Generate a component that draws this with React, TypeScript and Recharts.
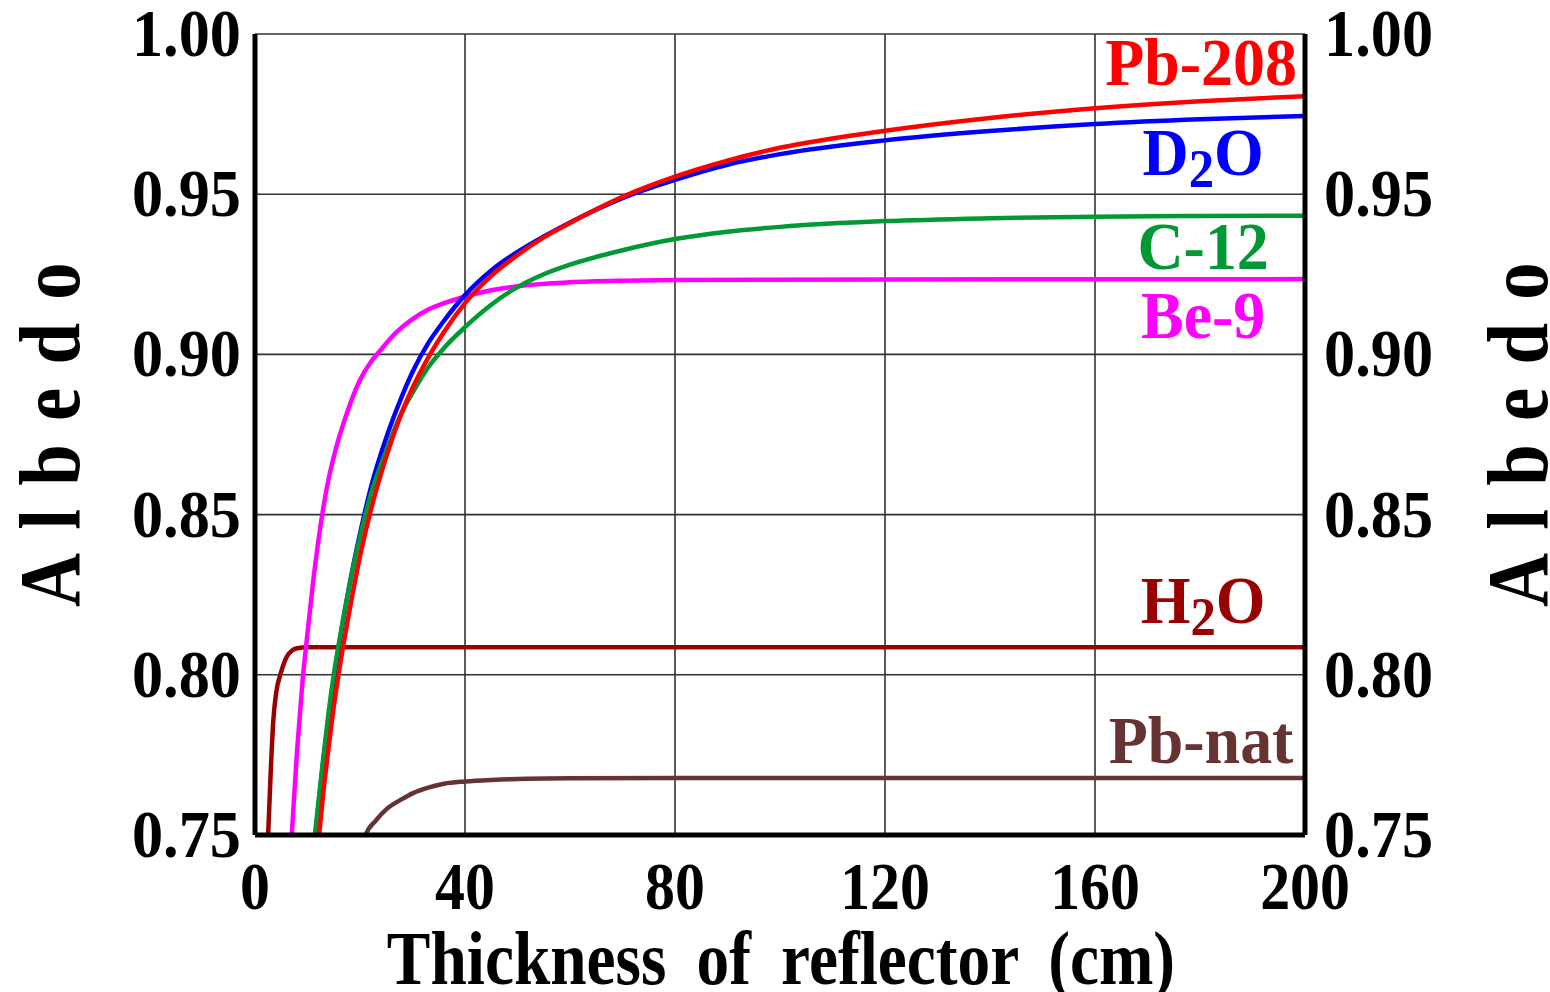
import React from 'react'
import { LineChart, Line, XAxis, YAxis, CartesianGrid, ReferenceDot } from 'recharts'

// albedo vs reflector thickness (cm), one table per reflector material
type Pt = { t: number; a: number }
const pts = (rows: number[][]): Pt[] => rows.map(([t, a]) => ({ t, a }))

const h2o = pts([
  [2.4, 0.745], [2.5, 0.75], [3, 0.77], [3.5, 0.786], [4, 0.794], [5, 0.801], [6, 0.8055],
  [7, 0.8075], [8, 0.8083], [10, 0.8086], [40, 0.8086], [100, 0.8086], [200, 0.8086],
])

const pbNat = pts([
  [20.5, 0.745], [21.1, 0.75], [23, 0.7545], [25, 0.758], [28, 0.7612], [30, 0.763], [33, 0.7648],
  [36, 0.766], [40, 0.7667], [45, 0.7672], [50, 0.7675], [60, 0.7677], [80, 0.7678], [200, 0.7678],
])

const be9 = pts([
  [6.8, 0.745], [7, 0.75], [8, 0.776], [9, 0.797], [10, 0.813], [11, 0.828], [12, 0.841], [13, 0.852],
  [14, 0.861], [15, 0.868], [16, 0.874], [18, 0.884], [20, 0.892], [22, 0.8975], [24, 0.9015],
  [27, 0.907], [30, 0.911], [33, 0.914], [36, 0.916], [40, 0.918], [45, 0.92], [50, 0.9213],
  [60, 0.9225], [70, 0.923], [80, 0.9232], [120, 0.9234], [200, 0.9235],
])

const d2o = pts([
  [11, 0.745], [11.5, 0.75], [12, 0.758], [13, 0.773], [14, 0.786], [15, 0.798], [16, 0.809],
  [18, 0.828], [20, 0.844], [22, 0.858], [25, 0.874], [28, 0.887], [30, 0.8945], [33, 0.9035],
  [36, 0.9105], [40, 0.9185], [45, 0.9262], [50, 0.932], [55, 0.9368], [60, 0.9412], [70, 0.9488],
  [80, 0.9545], [90, 0.9592], [100, 0.9625], [120, 0.9668], [140, 0.9697], [160, 0.9719],
  [180, 0.9734], [200, 0.9744],
])

const c12 = pts([
  [11, 0.745], [11.4, 0.75], [12, 0.759], [13, 0.774], [14, 0.788], [15, 0.8], [16, 0.81],
  [18, 0.828], [20, 0.843], [22, 0.856], [25, 0.87], [28, 0.882], [30, 0.888], [33, 0.896],
  [36, 0.902], [40, 0.9085], [45, 0.9155], [50, 0.921], [55, 0.925], [60, 0.928], [70, 0.9325],
  [80, 0.936], [90, 0.9383], [100, 0.9398], [120, 0.9416], [140, 0.9425], [160, 0.943],
  [180, 0.9432], [200, 0.9433],
])

const pb208 = pts([
  [11.8, 0.745], [12.2, 0.75], [13, 0.763], [14, 0.777], [15, 0.79], [16, 0.801], [18, 0.82],
  [20, 0.837], [22, 0.851], [25, 0.868], [28, 0.882], [30, 0.8895], [33, 0.899], [36, 0.907],
  [40, 0.916], [45, 0.9245], [50, 0.931], [55, 0.9365], [60, 0.941], [70, 0.9492], [80, 0.9555],
  [90, 0.9605], [100, 0.9645], [120, 0.9698], [140, 0.9738], [160, 0.9768], [180, 0.979], [200, 0.9806],
])

const xTicks = [0, 40, 80, 120, 160, 200]
const yTicks = [0.75, 0.8, 0.85, 0.9, 0.95, 1.0]

// drawing order: later series sit on top
const series = [
  { key: 'h2o', data: h2o, color: '#990000' },
  { key: 'pbnat', data: pbNat, color: '#663333' },
  { key: 'be9', data: be9, color: '#ff00ff' },
  { key: 'd2o', data: d2o, color: '#0000ff' },
  { key: 'c12', data: c12, color: '#009933' },
  { key: 'pb208', data: pb208, color: '#ff0000' },
]

// name tags at the right side, anchored in data units (thickness, albedo of baseline)
const tags = [
  { text: 'Pb-208', color: '#ff0000', t: 180.2, a: 0.9841 },
  { text: 'D', sub: '2', tail: 'O', color: '#0000ff', t: 180.6, a: 0.956 },
  { text: 'C-12', color: '#009933', t: 180.6, a: 0.9267 },
  { text: 'Be-9', color: '#ff00ff', t: 180.6, a: 0.9051 },
  { text: 'H', sub: '2', tail: 'O', color: '#990000', t: 180.6, a: 0.8162 },
  { text: 'Pb-nat', color: '#663333', t: 180.2, a: 0.7725 },
]

const FONT = "'Liberation Serif', 'Times New Roman', serif"

function Squish(props: any) {
  const { x, y, size, sx = 1, anchor = 'start', fill = '#000', rotate = 0, spacing, words, children } = props
  return (
    <text
      transform={`translate(${x},${y}) rotate(${rotate}) scale(${sx},1)`}
      textAnchor={anchor}
      fontFamily={FONT}
      fontWeight="bold"
      fontSize={size}
      fill={fill}
      style={{ letterSpacing: spacing, wordSpacing: words }}
    >
      {children}
    </text>
  )
}

const leftTick = (p: any) => (
  <Squish x={p.x + 1} y={p.y + 22} size={67} sx={0.93} anchor="end">
    {Number(p.payload.value).toFixed(2)}
  </Squish>
)
const rightTick = (p: any) => (
  <Squish x={p.x - 2} y={p.y + 22} size={67} sx={0.93} anchor="start">
    {Number(p.payload.value).toFixed(2)}
  </Squish>
)
const bottomTick = (p: any) => (
  <Squish x={p.x} y={p.y + 74} size={68} sx={0.88} anchor="middle">
    {p.payload.value}
  </Squish>
)

const tagLabel = (tag: any) => (p: any) => {
  const { x, y } = p.viewBox
  return (
    <Squish x={x} y={y} size={68} sx={0.94} anchor="middle" fill={tag.color}>
      {tag.text}
      {tag.sub && (
        <tspan fontSize={54} dy={12}>
          {tag.sub}
        </tspan>
      )}
      {tag.tail && <tspan dy={tag.sub ? -12 : 0}>{tag.tail}</tspan>}
    </Squish>
  )
}

const axisStroke = { stroke: '#000', strokeWidth: 5 }

export default function App() {
  return (
    <div style={{ position: 'absolute', left: 0, top: 0, width: 1550, height: 992, background: '#fff' }}>
      <LineChart width={1550} height={992} margin={{ top: 34, right: 0, bottom: 0, left: 0 }}>
        <CartesianGrid stroke="#333" strokeWidth={1.6} yAxisId="left" />
        <XAxis
          dataKey="t"
          type="number"
          domain={[0, 200]}
          ticks={xTicks}
          allowDataOverflow
          height={157}
          tickSize={0}
          tickMargin={0}
          axisLine={axisStroke}
          tickLine={false}
          tick={bottomTick}
          interval={0}
        />
        <YAxis
          yAxisId="left"
          type="number"
          domain={[0.75, 1]}
          ticks={yTicks}
          allowDataOverflow
          width={255}
          tickSize={0}
          tickMargin={15}
          axisLine={axisStroke}
          tickLine={false}
          tick={leftTick}
          interval={0}
        />
        <YAxis
          yAxisId="right"
          orientation="right"
          type="number"
          domain={[0.75, 1]}
          ticks={yTicks}
          allowDataOverflow
          width={245}
          tickSize={0}
          tickMargin={21}
          axisLine={axisStroke}
          tickLine={false}
          tick={rightTick}
          interval={0}
        />
        {series.map((s) => (
          <Line
            key={s.key}
            yAxisId="left"
            data={s.data}
            dataKey="a"
            type="monotone"
            stroke={s.color}
            strokeWidth={4.5}
            dot={false}
            activeDot={false}
            isAnimationActive={false}
          />
        ))}
        {tags.map((tag) => (
          <ReferenceDot
            key={tag.text + tag.color}
            yAxisId="left"
            x={tag.t}
            y={tag.a}
            r={0}
            fill="none"
            stroke="none"
            label={tagLabel(tag)}
          />
        ))}
        <Squish x={781} y={984} size={76} sx={0.86} anchor="middle" words={16}>
          Thickness of reflector (cm)
        </Squish>
        <Squish x={79} y={607} size={87} sx={0.86} rotate={-90} spacing={27}>
          Albedo
        </Squish>
        <Squish x={1547} y={607} size={87} sx={0.86} rotate={-90} spacing={27}>
          Albedo
        </Squish>
      </LineChart>
    </div>
  )
}
